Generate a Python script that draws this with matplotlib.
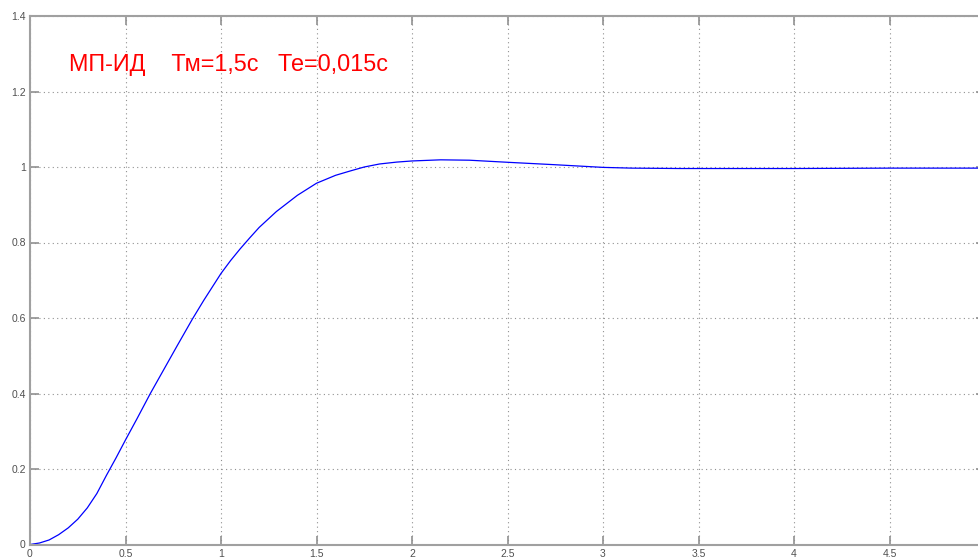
import matplotlib
matplotlib.use("Agg")
import matplotlib.pyplot as plt

# step response
t = [0, 0.05, 0.1, 0.15, 0.2, 0.25, 0.3, 0.35, 0.4, 0.45, 0.5, 0.56, 0.63,
     0.7, 0.77, 0.85, 0.91, 1.0, 1.05, 1.1, 1.15, 1.2, 1.29, 1.4, 1.5, 1.6,
     1.68, 1.75, 1.83, 1.92, 2.0, 2.15, 2.3, 2.5, 2.75, 3.0, 3.15, 3.4, 4.0,
     4.5, 5.0]
y = [0, 0.004, 0.012, 0.026, 0.044, 0.067, 0.097, 0.135, 0.183, 0.229,
     0.277, 0.333, 0.4, 0.463, 0.526, 0.597, 0.647, 0.718, 0.752, 0.783,
     0.812, 0.84, 0.882, 0.925, 0.957, 0.978, 0.99, 1.0, 1.008, 1.013, 1.016,
     1.019, 1.018, 1.0125, 1.006, 0.999, 0.997, 0.996, 0.996, 0.997, 0.997]

xticks = [0, 0.5, 1, 1.5, 2, 2.5, 3, 3.5, 4, 4.5]
xlabels = ["0", "0.5", "1", "1.5", "2", "2.5", "3", "3.5", "4", "4.5"]
yticks = [0, 0.2, 0.4, 0.6, 0.8, 1, 1.2, 1.4]
ylabels = ["0", "0.2", "0.4", "0.6", "0.8", "1", "1.2", "1.4"]
title = "МП-ИД    Тм=1,5с   Те=0,015с"

plt.rcParams["font.family"] = ["Liberation Sans", "DejaVu Sans"]

W, H = 979, 558
fig = plt.figure(figsize=(W / 100, H / 100), dpi=100)
ax = fig.add_axes([30 / W, 13.5 / H, 955 / W, 528.5 / H])

ax.plot(t, y, color="#0000ff", lw=0.9)

ax.set_xlim(0, 5)
ax.set_ylim(0, 1.4)
ax.set_xticks(xticks)
ax.set_xticklabels(xlabels)
ax.set_yticks(yticks)
ax.set_yticklabels(ylabels)
ax.tick_params(direction="in", length=6.5, width=1.2, color="#909090",
               labelsize=7.5, labelcolor="#505050", top=True, right=True)
ax.tick_params(axis="x", pad=3)
ax.tick_params(axis="y", pad=3)
for s in ax.spines.values():
    s.set_color("#a0a0a0")
    s.set_linewidth(1.5)
ax.grid(True, color="#909090", lw=0.8, linestyle=(0, (1, 3)))

ax.text(0.204, 1.2715, title, color="#ff0000", fontsize=16.8,
        ha="left", va="center")

fig.savefig("out.png", dpi=100)
